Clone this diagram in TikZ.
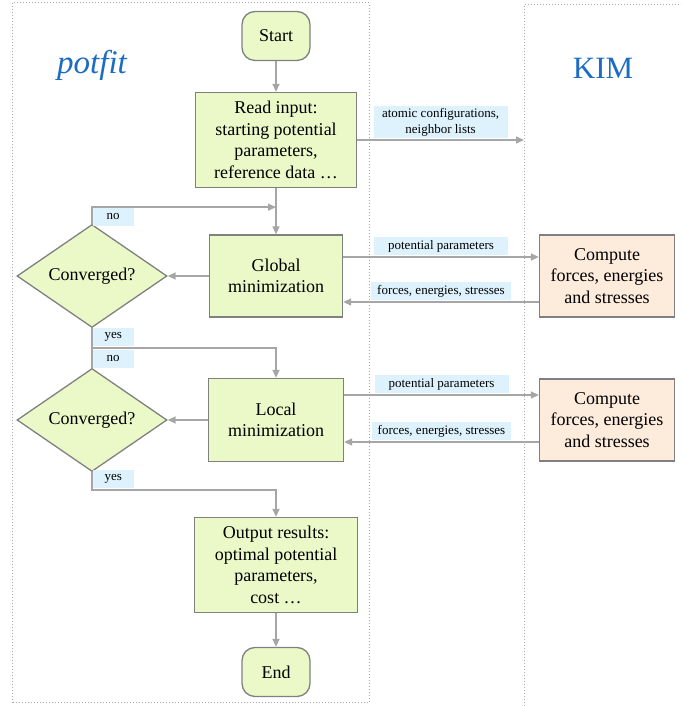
\documentclass[tikz,border=0pt]{standalone}
\usepackage{fontspec}
\setmainfont{Liberation Serif}
\usetikzlibrary{shapes.geometric,arrows.meta}
\definecolor{boxgreen}{HTML}{EBF9C9}
\definecolor{boxpeach}{HTML}{FDEBDC}
\definecolor{tagblue}{HTML}{DDF2FD}
\definecolor{boxline}{HTML}{808080}
\definecolor{arrline}{HTML}{A6A6A6}
\definecolor{titleblue}{HTML}{1A6CC4}

\begin{document}
\begin{tikzpicture}[x=1pt, y=1pt, node distance=60pt,
  stepbox/.style={shape=rectangle, draw=boxline, fill=boxgreen, line width=1.3pt,
    align=center, inner sep=0pt, font=\fontsize{18}{21.5}\selectfont},
  termbox/.style={stepbox, rounded corners=13pt, minimum width=68pt, minimum height=49pt},
  decide/.style={stepbox, shape=diamond, minimum width=150pt, minimum height=95pt},
  kimbox/.style={stepbox, fill=boxpeach, minimum width=135pt, minimum height=82pt},
  tag/.style={fill=tagblue, align=center, inner xsep=6pt, inner ysep=2pt,
    minimum width=134pt, minimum height=18pt, font=\fontsize{13}{16}\selectfont},
  flag/.style={fill=tagblue, inner sep=0pt, minimum width=41pt, minimum height=18pt,
    font=\fontsize{13}{16}\selectfont},
  line/.style={draw=arrline, line width=1.4pt},
  arr/.style={line, -{Triangle[length=8pt, width=7pt]}},
  panel/.style={draw=arrline, line width=1pt, dotted}]
\useasboundingbox (0,0) rectangle (681,706);

% the two sides
\draw[panel] (12,3) rectangle (369,703);
\draw[panel] (524,0) -- (524,701) -- (681,701);
\node [font=\fontsize{33}{36}\selectfont\itshape, text=titleblue] (potfit) at (92,641) {potfit};
\node [font=\fontsize{31}{34}\selectfont, text=titleblue] (kim) at (603,638) {KIM};

% main flow
\node [termbox] (start) at (276,670) {Start};
\node [stepbox, below of=start, node distance=104pt, minimum width=161pt, minimum height=95pt] (read)
  {Read input:\\ starting potential\\ parameters,\\ reference data \dots};
\node [stepbox, below of=read, node distance=136pt, minimum width=133pt, minimum height=82pt] (glob)
  {Global\\ minimization};
\node [stepbox, below of=glob, node distance=144pt, minimum width=135pt, minimum height=83pt] (loc)
  {Local\\ minimization};
\node [stepbox, below of=loc, node distance=145pt, minimum width=163pt, minimum height=95pt] (out)
  {Output results:\\ optimal potential\\ parameters,\\ cost \dots};
\node [termbox, below of=out, node distance=107pt] (end) {End};

\node [decide, left of=glob, node distance=184pt] (d1) {Converged?};
\node [decide, left of=loc, node distance=184pt] (d2) {Converged?};
\node [kimbox, right of=glob, node distance=331pt] (comp1) {Compute\\ forces, energies\\ and stresses};
\node [kimbox, right of=loc, node distance=331pt] (comp2) {Compute\\ forces, energies\\ and stresses};
\coordinate [right of=read, node distance=248pt] (kimin);

\draw[arr] (start) -- (read);
\draw[arr] (read) -- (glob);
\draw[arr] (out) -- (end);
\draw[arr] (read.east) -- (kimin) node [tag, midway, above=1pt] {atomic configurations,\\ neighbor lists};

% global step
\draw[arr] ([yshift=19pt]glob.east) -- ([yshift=19pt]glob.east -| comp1.west)
  node [tag, midway, above=1pt] {potential parameters};
\draw[arr] ([yshift=-26pt]comp1.west) -- ([yshift=-26pt]comp1.west -| glob.east)
  node [tag, midway, above=1pt] {forces, energies, stresses};
\draw[arr] (glob) -- (d1);
\draw[arr] (d1.north) |- node [flag, pos=0.5, anchor=north west] {no} ([yshift=-19pt]read.south);
\draw[arr] (d1.south) |- coordinate [pos=0.5] (split) node [flag, pos=0.5, anchor=south west, yshift=1pt] {yes}
  ([yshift=30pt]loc.north) -- (loc.north);

% local step
\draw[arr] ([yshift=25pt]loc.east) -- ([yshift=25pt]loc.east -| comp2.west)
  node [tag, midway, above=1pt] {potential parameters};
\draw[arr] ([yshift=-22pt]comp2.west) -- ([yshift=-22pt]comp2.west -| loc.east)
  node [tag, midway, above=1pt] {forces, energies, stresses};
\draw[arr] (loc) -- (d2);
\draw[line] (d2.north) -- (split) node [flag, at end, anchor=north west, yshift=-1pt] {no};
\draw[arr] (d2.south) |- node [flag, pos=0.5, anchor=south west, yshift=1pt] {yes}
  ([yshift=27pt]out.north) -- (out.north);
\end{tikzpicture}
\end{document}
